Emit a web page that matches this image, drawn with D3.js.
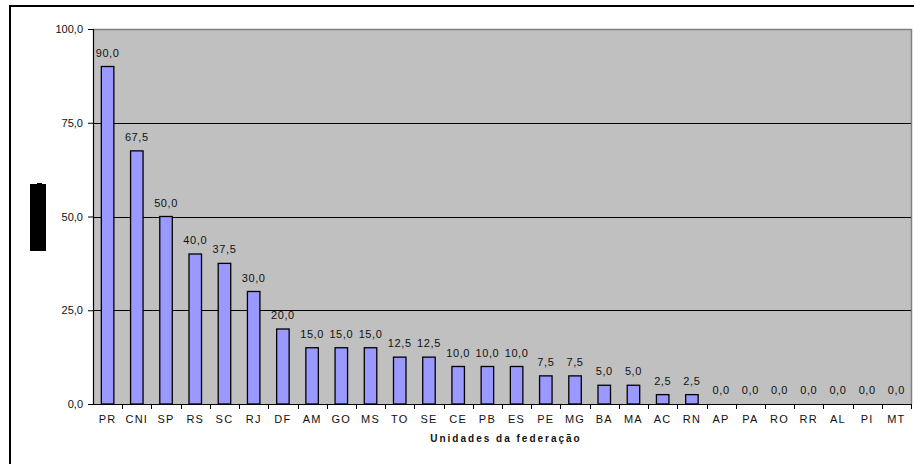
<!DOCTYPE html>
<html>
<head>
<meta charset="utf-8">
<script src="https://cdn.jsdelivr.net/npm/d3@7"></script>
<style>
  html, body { margin: 0; padding: 0; background: #fff; }
  svg { display: block; font-family: "Liberation Sans", Arial, sans-serif; }
</style>
</head>
<body>
<svg id="chart" width="914" height="464"></svg>
<script>
// Unidades da federação, ordered by value
const categories = ["PR","CNI","SP","RS","SC","RJ","DF","AM","GO","MS","TO","SE","CE","PB","ES","PE","MG","BA","MA","AC","RN","AP","PA","RO","RR","AL","PI","MT"];
const values = [90.0,67.5,50.0,40.0,37.5,30.0,20.0,15.0,15.0,15.0,12.5,12.5,10.0,10.0,10.0,7.5,7.5,5.0,5.0,2.5,2.5,0.0,0.0,0.0,0.0,0.0,0.0,0.0];
const yTicks = [0, 25, 50, 75, 100];
const xTitle = "Unidades da federação";

const fmt = v => v.toFixed(1).replace(".", ",");

const svg = d3.select("#chart");
const plot = { left: 93, top: 29, right: 911, bottom: 404 };

// Outer frame (extends past the right and bottom edges)
svg.append("rect")
  .attr("x", 10).attr("y", 6).attr("width", 920).attr("height", 470)
  .attr("fill", "none").attr("stroke", "#000").attr("stroke-width", 2);

const x = d3.scaleBand().domain(categories).range([plot.left, plot.right]).padding(0);
const y = d3.scaleLinear().domain([0, 100]).range([plot.bottom, plot.top]);

// Plot area background
svg.append("rect")
  .attr("x", plot.left).attr("y", plot.top)
  .attr("width", plot.right - plot.left).attr("height", plot.bottom - plot.top)
  .attr("fill", "#c0c0c0");
svg.append("path")
  .attr("d", `M${plot.left},${plot.top + 0.5}H${plot.right + 0.5}V${plot.bottom}`)
  .attr("fill", "none").attr("stroke", "#808080").attr("stroke-width", 1.5);

// Gridlines
svg.append("g").selectAll("line")
  .data(yTicks.filter(t => t > 0 && t < 100))
  .join("line")
  .attr("x1", plot.left).attr("x2", plot.right)
  .attr("y1", d => Math.round(y(d)) + 0.5).attr("y2", d => Math.round(y(d)) + 0.5)
  .attr("stroke", "#000").attr("stroke-width", 1);

// Bars
const barW = 12.5;
svg.append("g").selectAll("rect")
  .data(values)
  .join("rect")
  .attr("x", (d, i) => x(categories[i]) + x.bandwidth() / 2 - barW / 2)
  .attr("y", d => y(d))
  .attr("width", barW)
  .attr("height", d => y(0) - y(d))
  .attr("fill", "#9999ff")
  .attr("stroke", "#000").attr("stroke-width", 1.3);

// Value labels
svg.append("g").selectAll("text")
  .data(values)
  .join("text")
  .attr("x", (d, i) => x(categories[i]) + x.bandwidth() / 2)
  .attr("y", d => y(d) - 10)
  .attr("text-anchor", "middle")
  .attr("font-size", 11)
  .attr("letter-spacing", 0.6)
  .attr("fill", "#111")
  .text(fmt);

// Y axis
const yAxis = d3.axisLeft(y).tickValues(yTicks).tickSize(5).tickPadding(5).tickFormat(fmt);
const gy = svg.append("g").attr("transform", `translate(${plot.left},0)`).call(yAxis);
gy.select(".domain").attr("stroke", "#000").attr("stroke-width", 1.2);
gy.selectAll(".tick line").attr("stroke", "#000");
gy.selectAll(".tick text").attr("font-size", 11).attr("font-family", "Liberation Sans, Arial, sans-serif").attr("fill", "#111");

// X axis: ticks sit between categories
const gx = svg.append("g").attr("transform", `translate(0,${plot.bottom})`);
gx.append("line")
  .attr("x1", plot.left - 5).attr("x2", plot.right)
  .attr("y1", 0.5).attr("y2", 0.5)
  .attr("stroke", "#000").attr("stroke-width", 1.2);
gx.selectAll("line.tk")
  .data(categories.slice(1).concat(["__end"]))
  .join("line")
  .attr("class", "tk")
  .attr("x1", (d, i) => Math.round(x(categories[i]) + x.bandwidth()) + 0.5)
  .attr("x2", (d, i) => Math.round(x(categories[i]) + x.bandwidth()) + 0.5)
  .attr("y1", 0).attr("y2", 5)
  .attr("stroke", "#000");
gx.selectAll("text")
  .data(categories)
  .join("text")
  .attr("x", d => x(d) + x.bandwidth() / 2)
  .attr("y", 19)
  .attr("text-anchor", "middle")
  .attr("font-size", 11)
  .attr("letter-spacing", 1.2)
  .attr("fill", "#111")
  .text(d => d);

// X axis title
svg.append("text")
  .attr("x", 506).attr("y", 442)
  .attr("text-anchor", "middle")
  .attr("font-size", 10)
  .attr("font-weight", "bold")
  .attr("letter-spacing", 2)
  .attr("fill", "#111")
  .text(xTitle);

// Y axis title block
svg.append("rect")
  .attr("x", 30).attr("y", 184).attr("width", 16).attr("height", 67)
  .attr("fill", "#000");
svg.append("rect")
  .attr("x", 37).attr("y", 183).attr("width", 5).attr("height", 2)
  .attr("fill", "#000");
</script>
</body>
</html>
